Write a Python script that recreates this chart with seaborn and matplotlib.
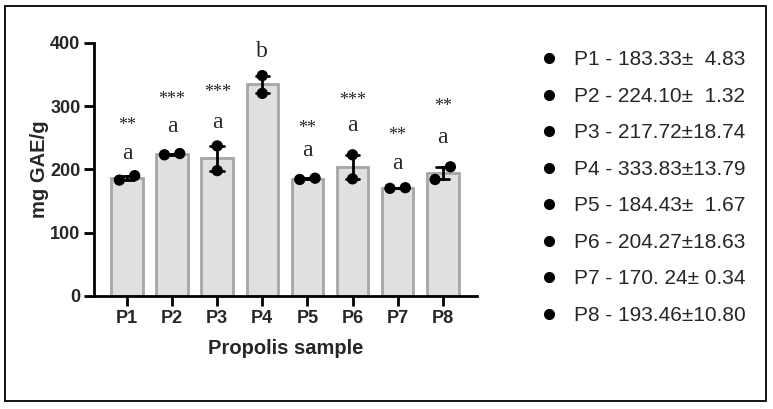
import numpy as np
import pandas as pd
import seaborn as sns
import matplotlib
matplotlib.use("Agg")
import matplotlib.pyplot as plt
from matplotlib.lines import Line2D
from matplotlib.patches import Rectangle

# ---- data ----
samples = ["P1", "P2", "P3", "P4", "P5", "P6", "P7", "P8"]
rep1 = [183, 223, 198, 320, 184, 185, 170, 184]
rep2 = [190, 225, 237, 348, 186, 223, 171, 204]
letters = ["a", "a", "a", "b", "a", "a", "a", "a"]
letter_y = [225, 267, 274, 386, 230, 269, 210, 250]
stars = ["**", "***", "***", "", "**", "***", "**", "**"]
star_y = [270, 310, 321, 0, 264, 309, 253, 300]
legend_labels = [
    "P1 - 183.33\u00b1  4.83",
    "P2 - 224.10\u00b1  1.32",
    "P3 - 217.72\u00b118.74",
    "P4 - 333.83\u00b113.79",
    "P5 - 184.43\u00b1  1.67",
    "P6 - 204.27\u00b118.63",
    "P7 - 170. 24\u00b1 0.34",
    "P8 - 193.46\u00b110.80",
]
yticks = [0, 100, 200, 300, 400]

df = pd.DataFrame({
    "sample": samples * 2,
    "value": rep1 + rep2,
})

sns.set_theme(style="ticks")
plt.rcParams["font.family"] = ["Liberation Sans", "DejaVu Sans"]

W, H = 773, 409
fig = plt.figure(figsize=(W / 100, H / 100), dpi=100)
ax = fig.add_axes([94.3 / W, 1 - 296 / H, (477 - 94.3) / W, (296 - 42.7) / H])

sns.barplot(data=df, x="sample", y="value", order=samples, ax=ax,
            color="#e0e0e0", edgecolor="#a6a6a6", linewidth=2.0, width=0.70,
            errorbar="se", capsize=0.3, saturation=1,
            err_kws={"color": "black", "linewidth": 2.0}, zorder=2)

# replicate points: spread side by side when they overlap
for i, (a, b) in enumerate(zip(rep1, rep2)):
    off = 0.17 if abs(a - b) < 25 else 0.0
    ax.scatter([i - off, i + off], [a, b], s=66, color="black", zorder=5,
               edgecolors="none")

for i, (l, ly) in enumerate(zip(letters, letter_y)):
    ax.text(i, ly, l, ha="center", va="center", fontsize=17,
            family=["Liberation Serif"], zorder=6)
for i, (s, sy) in enumerate(zip(stars, star_y)):
    if s:
        ax.text(i, sy, s, ha="center", va="center", fontsize=13,
                family=["Liberation Serif"], zorder=6)

ax.set_ylim(0, 400)
ax.set_xlim(-0.725, 7.76)
ax.set_yticks(yticks)
ax.set_xlabel("Propolis sample", fontsize=14.5, fontweight="bold", labelpad=9)
ax.set_ylabel("mg GAE/g", fontsize=14.5, fontweight="bold", labelpad=1)
for lab in ax.get_xticklabels() + ax.get_yticklabels():
    lab.set_fontweight("bold")
    lab.set_fontsize(13)
ax.tick_params(axis="both", width=2, length=7, color="black", pad=3)
for sp in ["left", "bottom"]:
    ax.spines[sp].set_linewidth(2)
    ax.spines[sp].set_color("black")
sns.despine(ax=ax)
ax.set_facecolor("white")

handles = [Line2D([], [], marker="o", linestyle="none", color="black",
                  markersize=7) for _ in legend_labels]
fig.legend(handles, legend_labels, loc="upper left",
           bbox_to_anchor=(534 / W, 1 - 42 / H), frameon=False,
           fontsize=15, labelspacing=0.84, handletextpad=0.9,
           handlelength=0.6, borderaxespad=0)

fig.patches.append(Rectangle((5 / W, 1 - 401 / H), (766 - 5) / W, (401 - 6) / H,
                             transform=fig.transFigure, fill=False,
                             edgecolor="black", linewidth=1.3))

fig.savefig("out.png", dpi=100)
